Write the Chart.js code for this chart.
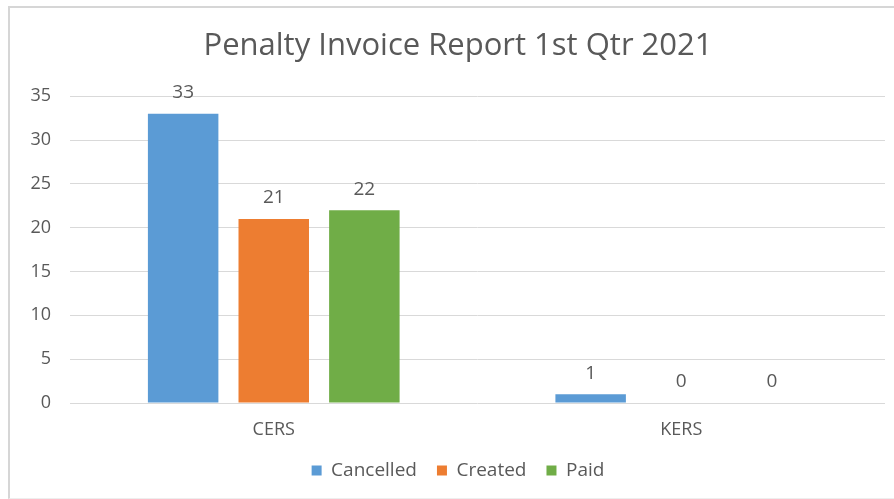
<!DOCTYPE html>
<html>
<head>
<meta charset="utf-8">
<script src="https://cdn.jsdelivr.net/npm/chart.js@4.4.1/dist/chart.umd.min.js"></script>
<style>
  html, body { margin: 0; padding: 0; background: #fff; }
  #wrap { position: relative; width: 894px; height: 499px; }
  #frame { position: absolute; left: 8px; top: 6px; width: 900px; height: 490px;
           border-left: 2px solid #d6d6d6; border-top: 2px solid #d6d6d6; border-bottom: 1px solid #eee; }
  canvas { position: absolute; left: 0; top: 0; }
</style>
</head>
<body>
<div id="wrap">
  <div id="frame"></div>
  <canvas id="chart" width="894" height="499"></canvas>
</div>
<script>
// data
const categories = ["CERS", "KERS"];
const cancelled = [33, 1];
const created = [21, 0];
const paid = [22, 0];
const yTicks = [0, 5, 10, 15, 20, 25, 30, 35];

const textColor = "#595959";
const fontFamily = "'Open Sans', sans-serif";

// draw the value above each bar
const valueLabels = {
  id: 'valueLabels',
  afterDatasetsDraw(chart) {
    const ctx = chart.ctx;
    ctx.save();
    ctx.font = "19px " + fontFamily;
    ctx.fillStyle = textColor;
    ctx.textAlign = "center";
    ctx.textBaseline = "middle";
    chart.data.datasets.forEach((ds, i) => {
      chart.getDatasetMeta(i).data.forEach((bar, j) => {
        ctx.fillText(ds.data[j], bar.x, bar.y - 21);
      });
    });
    ctx.restore();
  }
};

new Chart(document.getElementById('chart'), {
  type: 'bar',
  data: {
    labels: categories,
    datasets: [
      { label: 'Cancelled', data: cancelled, backgroundColor: '#5B9BD5' },
      { label: 'Created', data: created, backgroundColor: '#ED7D31' },
      { label: 'Paid', data: paid, backgroundColor: '#70AD47' }
    ]
  },
  options: {
    responsive: false,
    animation: false,
    categoryPercentage: 0.667,
    barPercentage: 0.778,
    layout: { padding: { left: 31, right: 9, top: 28, bottom: 9 } },
    plugins: {
      title: {
        display: true,
        text: 'Penalty Invoice Report 1st Qtr 2021',
        color: textColor,
        font: { size: 31, family: fontFamily, weight: 'normal' },
        padding: { top: 0, bottom: 31 }
      },
      legend: {
        position: 'bottom',
        labels: {
          color: textColor,
          font: { size: 19, family: fontFamily },
          boxWidth: 10,
          boxHeight: 10,
          padding: 20
        }
      },
      tooltip: { enabled: false }
    },
    scales: {
      x: {
        afterFit(scale) { scale.height = 38; },
        grid: { display: false },
        border: { display: false },
        ticks: { color: textColor, font: { size: 18, family: fontFamily }, padding: 8 }
      },
      y: {
        min: 0,
        max: 35,
        afterFit(scale) { scale.width = 39; },
        afterBuildTicks(scale) { scale.ticks = yTicks.map(v => ({ value: v })); },
        grid: { color: '#d9d9d9', drawTicks: false },
        border: { display: false },
        ticks: { color: textColor, font: { size: 18, family: fontFamily }, padding: 19 }
      }
    }
  },
  plugins: [valueLabels]
});
</script>
</body>
</html>
